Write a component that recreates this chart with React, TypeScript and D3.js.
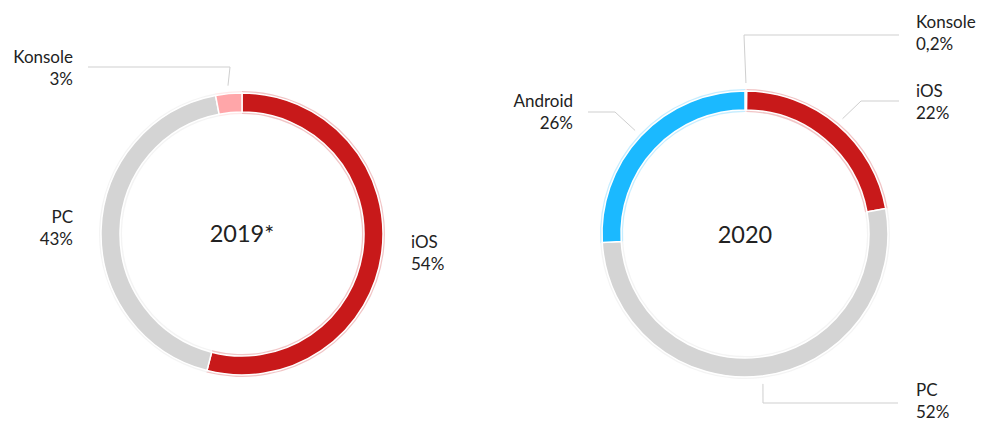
import React from "react";
import * as d3 from "d3";

const categories2019 = ["iOS", "PC", "Konsole"];
const values2019 = [54, 43, 3];
const categories2020 = ["Konsole", "iOS", "PC", "Android"];
const values2020 = [0.2, 22, 52, 26];
const centerTitles = ["2019*", "2020"];

const colorMap: Record<string, string> = {
  iOS: "#c8191a",
  PC: "#d4d4d4",
  Konsole: "#ffa6a9",
  Android: "#1bb9ff",
};

type LabelLayout = {
  line?: [number, number][];
  tx: number;
  ty: number;
  anchor: "start" | "end";
};

const fmt = (v: number) => String(v).replace(".", ",") + "%";

function Donut({
  cats, vals, cx, cy, r, inner, title, titleY, layouts,
}: {
  cats: string[]; vals: number[]; cx: number; cy: number; r: number; inner: number;
  title: string; titleY: number; layouts: Record<string, LabelLayout>;
}) {
  const pie = d3.pie<number>().sort(null).value((d) => d)(vals);
  const arc = d3.arc<d3.PieArcDatum<number>>().innerRadius(inner).outerRadius(r);
  const halo = d3.arc<d3.PieArcDatum<number>>().innerRadius(inner - 2).outerRadius(r + 2);
  return (
    <g>
      {pie.map((p, i) => (
        <path key={"h" + i} d={halo(p) || ""} transform={`translate(${cx},${cy})`}
          fill={colorMap[cats[i]]} opacity={0.25} />
      ))}
      {pie.map((p, i) => (
        <path key={"a" + i} d={arc(p) || ""} transform={`translate(${cx},${cy})`}
          fill={colorMap[cats[i]]} stroke="#fff" strokeWidth={1.5} />
      ))}
      <text x={cx} y={titleY} textAnchor="middle" fontSize={23.5} fill="#222">{title}</text>
      {pie.map((p, i) => {
        const lay = layouts[cats[i]];
        if (!lay) return null;
        const mid = (p.startAngle + p.endAngle) / 2;
        const rr = r + 8;
        const sx = cx + rr * Math.sin(mid);
        const sy = cy - rr * Math.cos(mid);
        const pts: [number, number][] = lay.line ? [[sx, sy], ...lay.line] : [];
        return (
          <g key={"l" + i}>
            {pts.length > 0 && (
              <polyline points={pts.map((q) => q.join(",")).join(" ")} fill="none" stroke="#cfcfcf" strokeWidth={1} />
            )}
            <text x={lay.tx} y={lay.ty} textAnchor={lay.anchor} fontSize={17} fill="#222">
              {cats[i]}
            </text>
            <text x={lay.tx} y={lay.ty + 22} textAnchor={lay.anchor} fontSize={17} fill="#222">
              {fmt(p.data)}
            </text>
          </g>
        );
      })}
    </g>
  );
}

export default function App() {
  const cx1 = 242, cx2 = 745;
  return (
    <svg width={981} height={421} style={{ position: "absolute", left: 0, top: 0, fontFamily: "Lato, 'Open Sans', sans-serif" }}>
      <rect width={981} height={421} fill="#fff" />
      <Donut cats={categories2019} vals={values2019} cx={cx1} cy={234} r={141} inner={122}
        title={centerTitles[0]} titleY={242}
        layouts={{
          Konsole: { line: [[230, 67], [88, 67]], tx: 73, ty: 63, anchor: "end" },
          PC: { tx: 73, ty: 223, anchor: "end" },
          iOS: { tx: 411, ty: 248, anchor: "start" },
        }} />
      <Donut cats={categories2020} vals={values2020} cx={cx2} cy={234} r={143} inner={124}
        title={centerTitles[1]} titleY={243}
        layouts={{
          Konsole: { line: [[744, 35], [899, 35]], tx: 916, ty: 28, anchor: "start" },
          iOS: { line: [[861, 101], [899, 101]], tx: 916, ty: 97, anchor: "start" },
          PC: { line: [[763, 403], [898, 403]], tx: 916, ty: 396, anchor: "start" },
          Android: { line: [[615, 112], [588, 112]], tx: 573, ty: 107, anchor: "end" },
        }} />
    </svg>
  );
}
